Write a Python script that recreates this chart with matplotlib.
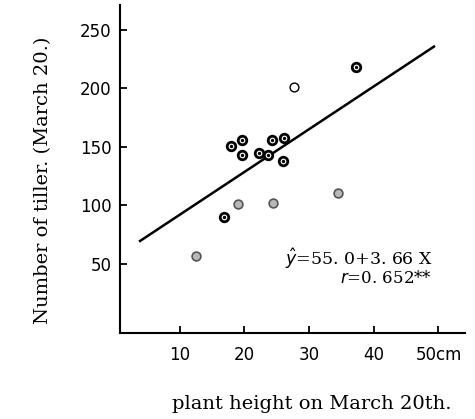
import numpy as np
import matplotlib
matplotlib.use("Agg")
import matplotlib.pyplot as plt

# ---- data ----
# plant height (cm) vs number of tillers, grouped by marker look in the print
dark_x = [16.9, 17.9, 19.7, 19.7, 22.3, 23.6, 24.3, 26.1, 26.0, 37.2]
dark_y = [89.6, 150.7, 156.0, 142.4, 144.4, 143.0, 155.6, 157.3, 137.6, 217.7]
grey_x = [12.5, 19.1, 24.4, 34.5]
grey_y = [56.5, 101.3, 101.6, 110.2]
open_x = [27.7]
open_y = [200.6]

# regression y = a + b x, drawn over the observed span
A, B = 55.0, 3.66
line_x = [3.9, 49.3]

xticks = [10, 20, 30, 40, 50]
xticklabels = ["10", "20", "30", "40", "50cm"]
yticks = [50, 100, 150, 200, 250]
yticklabels = ["50", "100", "150", "200", "250"]

fig = plt.figure(figsize=(4.75, 4.19), dpi=100)
ax = fig.add_axes([120 / 475, 1 - 333 / 419, 345 / 475, 328 / 419])

lx = np.array(line_x)
ax.plot(lx, A + B * lx, color="black", linewidth=1.8, zorder=2)

ax.scatter(dark_x, dark_y, s=38, facecolors="white", edgecolors="black",
           linewidths=2.0, zorder=3)
ax.scatter(dark_x, dark_y, s=2, color="black", zorder=4)
ax.scatter(grey_x, grey_y, s=40, facecolors="#b8b8b8", edgecolors="#555555",
           linewidths=1.2, zorder=3)
ax.scatter(open_x, open_y, s=40, facecolors="white", edgecolors="black",
           linewidths=1.0, zorder=3)

ax.text(49.2, 54.5, r"$\hat{y}$=55. 0+3. 66 X", ha="right", va="center",
        fontsize=12.5, family="DejaVu Serif")
ax.text(49.0, 37.5, r"$r$=0. 652**", ha="right", va="center",
        fontsize=12, family="DejaVu Serif")

ax.set_xlim(0.8, 54.1)
ax.set_ylim(-9.4, 271)
ax.set_xticks(xticks)
ax.set_xticklabels(xticklabels)
ax.set_yticks(yticks)
ax.set_yticklabels(yticklabels)
ax.tick_params(direction="in", length=5, width=1.3, labelsize=12, pad=9)
ax.tick_params(axis="y", pad=6)

for s in ["top", "right"]:
    ax.spines[s].set_visible(False)
for s in ["left", "bottom"]:
    ax.spines[s].set_linewidth(1.5)

fig.text(312 / 475, 1 - 404 / 419, "plant height on March 20th.",
         ha="center", va="center", fontsize=14, family="DejaVu Serif")
fig.text(43 / 475, 1 - 180 / 419, "Number of tiller. (March 20.)",
         ha="center", va="center", rotation=90, fontsize=14,
         family="DejaVu Serif")

fig.savefig("out.png", dpi=100)
